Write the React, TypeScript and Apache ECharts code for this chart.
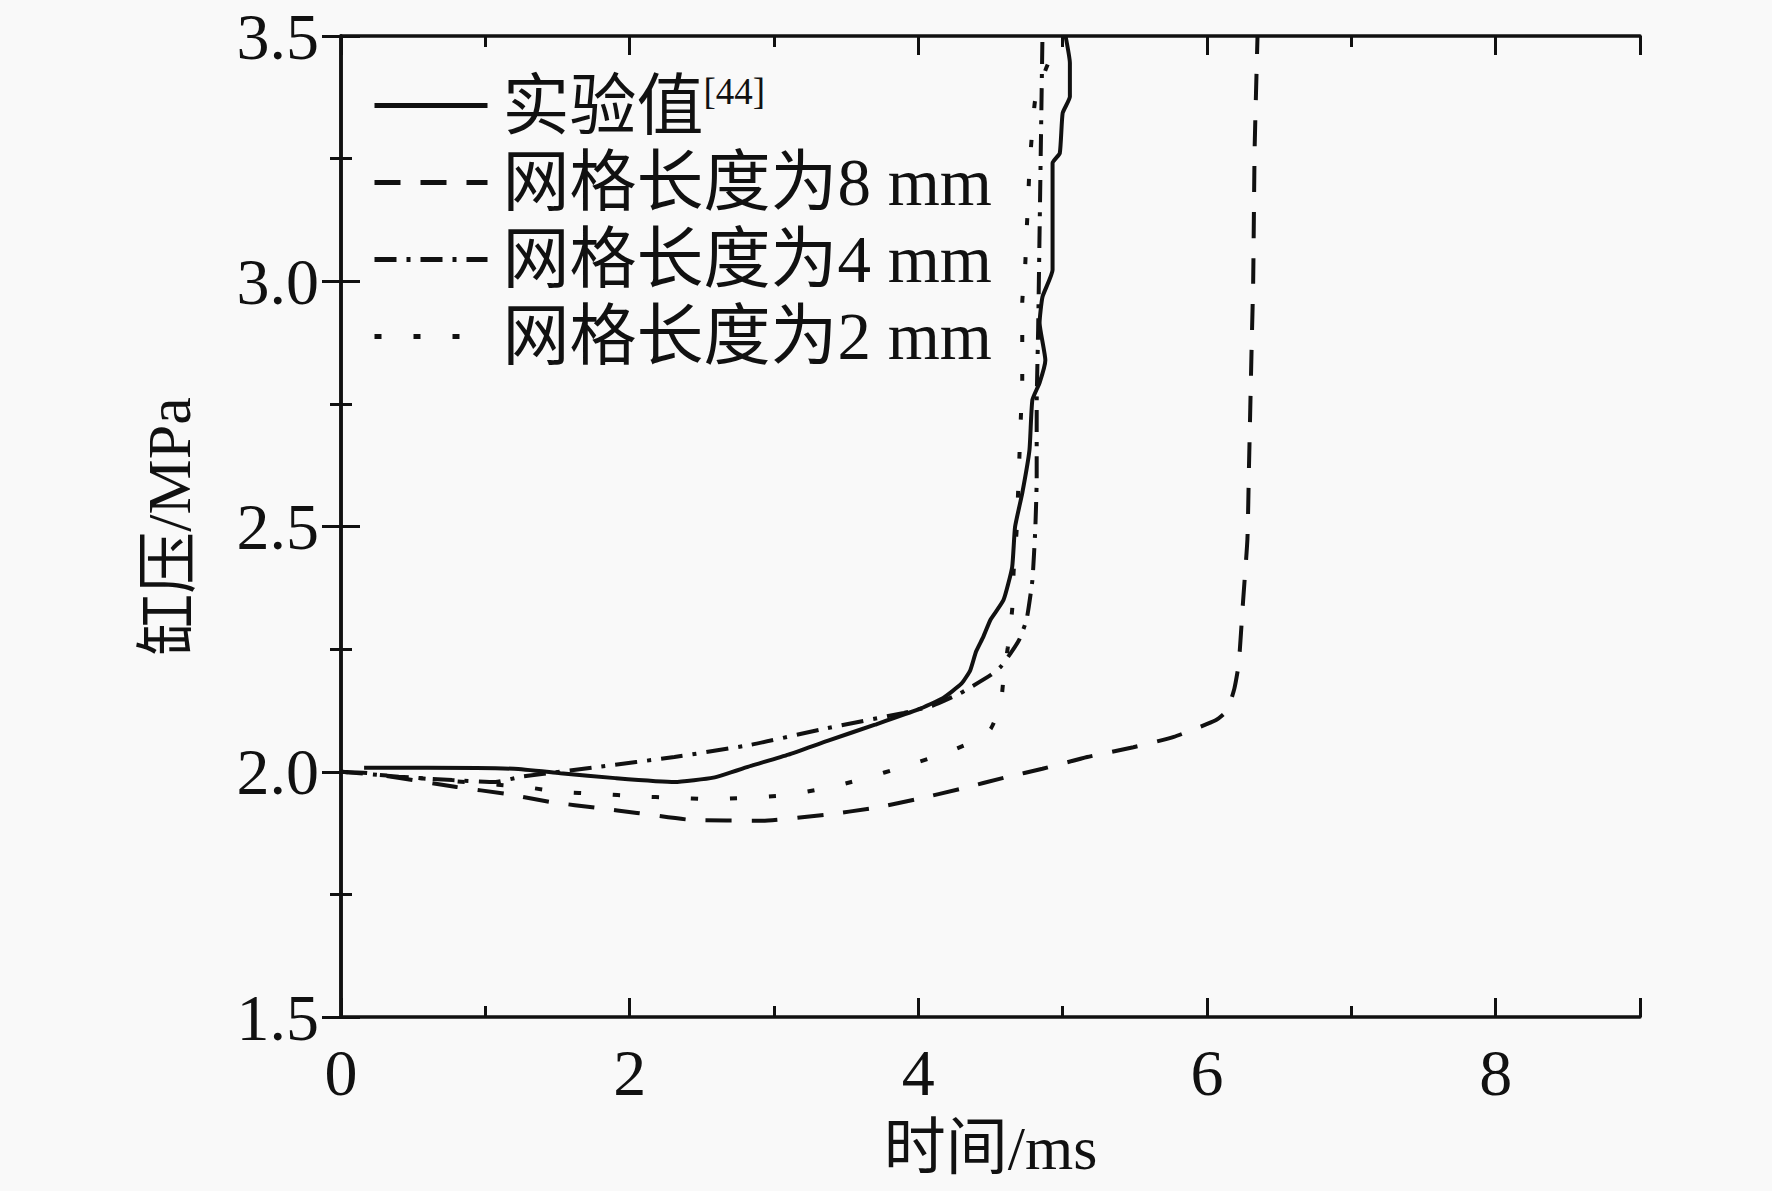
import React, { useEffect, useRef } from "react";
import * as echarts from "echarts";

const legendNames = ["实验值", "网格长度为8 mm", "网格长度为4 mm", "网格长度为2 mm"];

const experimental: number[][] = [
  [0.16, 2.008], [0.6, 2.008], [1.2, 2.006], [1.52, 1.997], [1.9, 1.987], [2.31, 1.979],
  [2.58, 1.988], [2.84, 2.012], [3.1, 2.035], [3.37, 2.063], [3.7, 2.096], [4.0, 2.127],
  [4.17, 2.15], [4.3, 2.18], [4.36, 2.207], [4.4, 2.245], [4.45, 2.275], [4.5, 2.31],
  [4.59, 2.35], [4.65, 2.417], [4.67, 2.499], [4.72, 2.568], [4.77, 2.656], [4.79, 2.758],
  [4.84, 2.793], [4.88, 2.839], [4.84, 2.915], [4.86, 2.968], [4.93, 3.023], [4.93, 3.241],
  [4.98, 3.261], [5.0, 3.343], [5.05, 3.376], [5.05, 3.445], [5.02, 3.5],
];

const mesh8: number[][] = [
  [0, 2.0], [0.19, 1.997], [0.8, 1.969], [1.14, 1.955], [1.46, 1.938], [1.78, 1.926],
  [2.05, 1.916], [2.42, 1.902], [2.92, 1.9], [3.35, 1.912], [3.69, 1.926], [3.99, 1.944],
  [4.29, 1.965], [4.61, 1.989], [4.86, 2.006], [5.17, 2.03], [5.49, 2.05], [5.77, 2.071],
  [6.06, 2.105], [6.14, 2.125], [6.19, 2.17], [6.22, 2.22], [6.25, 2.348], [6.28, 2.474],
  [6.29, 2.61], [6.31, 2.876], [6.32, 3.0], [6.33, 3.27], [6.35, 3.5],
];

const mesh4: number[][] = [
  [0, 2.0], [0.4, 1.99], [0.77, 1.983], [1.07, 1.979], [1.25, 1.99], [1.78, 2.01],
  [2.31, 2.03], [2.84, 2.055], [3.37, 2.089], [3.9, 2.12], [4.1, 2.135], [4.29, 2.16],
  [4.5, 2.197], [4.57, 2.214], [4.64, 2.242], [4.7, 2.27], [4.75, 2.31], [4.79, 2.39],
  [4.81, 2.493], [4.82, 2.595], [4.82, 2.748], [4.83, 2.9], [4.84, 3.1], [4.85, 3.3], [4.86, 3.5],
];

const mesh2: number[][] = [
  [0, 2.0], [0.46, 1.989], [0.9, 1.978], [1.27, 1.969], [1.52, 1.959], [1.78, 1.955],
  [2.05, 1.95], [2.31, 1.947], [2.55, 1.944], [2.81, 1.947], [3.08, 1.952], [3.29, 1.963],
  [3.48, 1.975], [3.66, 1.989], [3.87, 2.008], [4.15, 2.034], [4.35, 2.058], [4.5, 2.087],
  [4.57, 2.136], [4.59, 2.19], [4.62, 2.254], [4.65, 2.33], [4.66, 2.407], [4.68, 2.487],
  [4.69, 2.56], [4.7, 2.64], [4.71, 2.72], [4.72, 2.8], [4.72, 2.874], [4.72, 2.956],
  [4.74, 3.03], [4.75, 3.1], [4.76, 3.16], [4.77, 3.23], [4.79, 3.31], [4.81, 3.37],
  [4.88, 3.43], [4.95, 3.48], [4.97, 3.5],
];

const xMajorTicks = [0, 2, 4, 6, 8];

const FONT = "'Liberation Serif', 'Times New Roman', 'Noto Sans CJK SC', serif";
const BLACK = "#111";

export default function App() {
  const ref = useRef<HTMLDivElement>(null);

  useEffect(() => {
    if (!ref.current) return;
    const chart = echarts.init(ref.current, undefined, { renderer: "svg" });

    const axisLine = { show: true, lineStyle: { color: BLACK, width: 3.5 } };
    const majorTick = { show: true, inside: true, length: 19, lineStyle: { color: BLACK, width: 3 } };
    const minorTick = { show: true, inside: true, length: 11, lineStyle: { color: BLACK, width: 3 } };
    const labelStyle = { fontFamily: FONT, fontSize: 66, color: BLACK };

    const xBase = { type: "value", min: 0, max: 9, splitLine: { show: false }, gridIndex: 0 };

    const lineSeries = (name: string, data: number[][], type: any, width: number) => ({
      name,
      type: "line",
      data,
      xAxisIndex: 0,
      yAxisIndex: 0,
      showSymbol: false,
      symbol: "none",
      smooth: 0.15,
      lineStyle: { color: BLACK, width, type },
      itemStyle: { color: BLACK },
      z: 3,
    });

    const option: any = {
      animation: false,
      backgroundColor: "#f9f9f9",
      grid: { left: 341, right: 132, top: 36, bottom: 174, containLabel: false },
      legend: {
        show: true,
        orient: "vertical",
        left: 367,
        top: 67,
        itemWidth: 113,
        itemHeight: 20,
        itemGap: 10,
        data: legendNames,
        itemStyle: { opacity: 0 },
        lineStyle: { width: 5 },
        textStyle: {
          fontFamily: FONT,
          fontSize: 67,
          lineHeight: 65,
          color: BLACK,
          padding: [0, 0, 0, 10],
          rich: {
            sup: { fontFamily: FONT, fontSize: 37, lineHeight: 65, verticalAlign: "top", color: BLACK, padding: [0, 0, 26, 0] },
          },
        },
        formatter: (name: string) => (name === "实验值" ? "实验值{sup|[44]}" : name),
      },
      xAxis: [
        {
          ...xBase,
          position: "bottom",
          interval: 2,
          axisLine,
          axisTick: majorTick,
          axisLabel: {
            ...labelStyle,
            margin: 22,
            formatter: (v: number) => (xMajorTicks.indexOf(v) >= 0 ? String(v) : ""),
          },
          name: "时间/ms",
          nameLocation: "middle",
          nameGap: 100,
          nameTextStyle: { fontFamily: FONT, fontSize: 62, color: BLACK },
        },
        {
          ...xBase,
          position: "bottom",
          interval: 1,
          axisLine: { show: false },
          axisTick: minorTick,
          axisLabel: { show: false },
        },
        {
          ...xBase,
          position: "top",
          interval: 2,
          axisLine,
          axisTick: majorTick,
          axisLabel: { show: false },
        },
        {
          ...xBase,
          position: "top",
          interval: 1,
          axisLine: { show: false },
          axisTick: minorTick,
          axisLabel: { show: false },
        },
      ],
      yAxis: [
        {
          type: "value",
          min: 1.5,
          max: 3.5,
          interval: 0.5,
          position: "left",
          axisLine,
          axisTick: majorTick,
          minorTick: { ...minorTick, splitNumber: 2 },
          splitLine: { show: false },
          minorSplitLine: { show: false },
          axisLabel: { ...labelStyle, margin: 22, formatter: (v: number) => v.toFixed(1) },
          name: "缸压/MPa",
          nameLocation: "middle",
          nameGap: 141,
          nameRotate: 90,
          nameTextStyle: { fontFamily: FONT, fontSize: 62, color: BLACK },
        },
        {
          type: "value",
          min: 1.5,
          max: 3.5,
          interval: 0.5,
          position: "right",
          axisLine,
          axisTick: majorTick,
          minorTick: { ...minorTick, splitNumber: 2 },
          splitLine: { show: false },
          minorSplitLine: { show: false },
          axisLabel: { show: false },
        },
      ],
      series: [
        lineSeries(legendNames[0], experimental, "solid", 4),
        lineSeries(legendNames[1], mesh8, [26, 20], 4),
        lineSeries(legendNames[2], mesh4, [22, 10, 4, 10], 4),
        lineSeries(legendNames[3], mesh2, [7, 32], 4),
      ],
    };

    chart.setOption(option);
    return () => chart.dispose();
  }, []);

  return (
    <div
      ref={ref}
      style={{ position: "fixed", left: 0, top: 0, width: 1772, height: 1191 }}
    />
  );
}
